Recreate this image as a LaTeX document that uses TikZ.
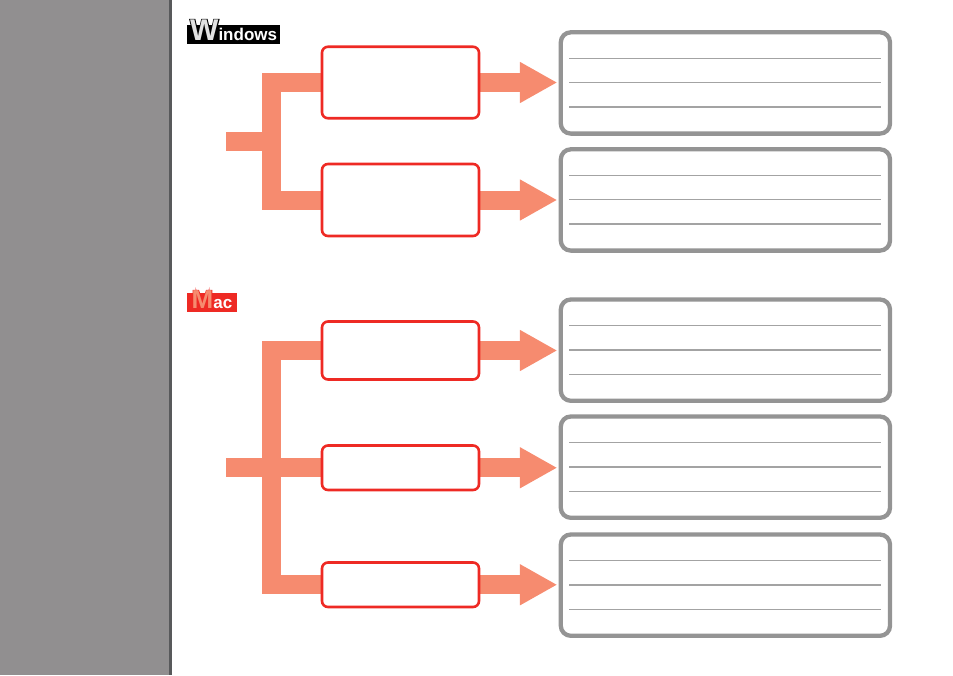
\documentclass[tikz,border=0pt]{standalone}
\usepackage{fontspec}
\usepackage{xcolor}
\usetikzlibrary{arrows.meta,backgrounds}
\setmainfont{Liberation Sans}
\newfontfamily\badgefont{Liberation Sans Bold}
\newfontfamily\badgeheavy[FakeBold=6]{Liberation Sans Bold}
\definecolor{flow-orange}{HTML}{F68B6F}
\definecolor{box-red}{HTML}{EE2A24}
\definecolor{box-gray}{HTML}{949494}
\definecolor{rule-gray}{HTML}{A3A3A3}
\definecolor{panel-gray}{HTML}{918F90}
\definecolor{panel-dark}{HTML}{58595B}
\definecolor{w-fill}{HTML}{E2E2E2}
\newcommand{\bigletter}[4]{{\fontsize{#1}{#1}\selectfont\rlap{\color{#2}\badgeheavy #4}{\color{#3}\badgefont #4}}}
\tikzset{
    red-box/.style = {draw=box-red, fill=white, line width=2.6pt, rounded corners=6pt, minimum width=157pt, inner sep=0pt, outer sep=0pt, anchor=north west},
    gray-box/.style = {draw=box-gray, fill=white, line width=4.3pt, rounded corners=10pt, minimum width=329.2pt, minimum height=101.3pt, inner sep=0pt, outer sep=0pt, anchor=north west},
    branch-line/.style = {draw=flow-orange, line width=19pt},
    flow-arrow/.style = {draw=flow-orange, line width=19pt, -{Triangle[length=37.5pt,width=38.5pt]}, shorten >=3.5pt},
    rule-line/.style = {draw=rule-gray, line width=1.2pt},
    badge-box/.style = {inner sep=0pt, minimum height=19pt, anchor=north west},
    badge-text/.style = {inner sep=0pt, anchor=base west, font=\badgefont\fontsize{17}{17}\selectfont, text=white},
}
\begin{document}
\begin{tikzpicture}[x=1pt,y=-1pt]
\useasboundingbox (0,0) rectangle (953,675);
\fill[panel-gray] (0,0) rectangle (169,675);
\fill[panel-dark] (169,0) rectangle (172,675);

\coordinate (win-in) at (226,141);
\coordinate (win-stem) at (271,141);
\coordinate (mac-in) at (226,467.75);
\coordinate (mac-stem) at (271,467.75);

\node [red-box, minimum height=71.5pt] (win-one) at (322,46.75) {};
\node [red-box, minimum height=72pt] (win-two) at (322,164) {};
\node [red-box, minimum height=58pt] (mac-one) at (322,321.5) {};
\node [red-box, minimum height=44.5pt] (mac-two) at (322,445.5) {};
\node [red-box, minimum height=44.5pt] (mac-three) at (322,562.5) {};

\node [gray-box] (win-out-one) at (560.8,32.3) {};
\node [gray-box] (win-out-two) at (560.8,149.3) {};
\node [gray-box] (mac-out-one) at (560.8,299.5) {};
\node [gray-box] (mac-out-two) at (560.8,416.5) {};
\node [gray-box] (mac-out-three) at (560.8,534.5) {};

\foreach \name in {win-out-one,win-out-two,mac-out-one,mac-out-two,mac-out-three}
    \foreach \ypos in {26.2,50.4,74.6}
        \draw[rule-line] ([xshift=8.2pt,yshift=-\ypos pt]\name.north west) -- ([xshift=-9pt,yshift=-\ypos pt]\name.north east);

\begin{scope}[on background layer]
\foreach \from/\to in {win-one/win-out-one,win-two/win-out-two,mac-one/mac-out-one,mac-two/mac-out-two,mac-three/mac-out-three}
    \draw[flow-arrow] (\from.east) -- (\from.east -| \to.west);
\draw[branch-line] (win-one.west) -| (win-stem) |- (win-two.west);
\draw[branch-line] (win-in) -- (win-stem);
\draw[branch-line] (mac-one.west) -| (mac-stem) |- (mac-three.west);
\draw[branch-line] (mac-in) -- (mac-two.west);
\end{scope}

\node [badge-box, fill=black, minimum width=93pt] (win-badge) at (187,25) {};
\node [badge-text] (win-label) at (190,40.5) {\bigletter{30}{black}{w-fill}{W}indows};
\node [badge-box, fill=box-red, minimum width=50pt] (mac-badge) at (187,293) {};
\node [badge-text] (mac-label) at (191.5,308.5) {\bigletter{26}{box-red}{flow-orange}{M}ac};
\end{tikzpicture}
\end{document}
